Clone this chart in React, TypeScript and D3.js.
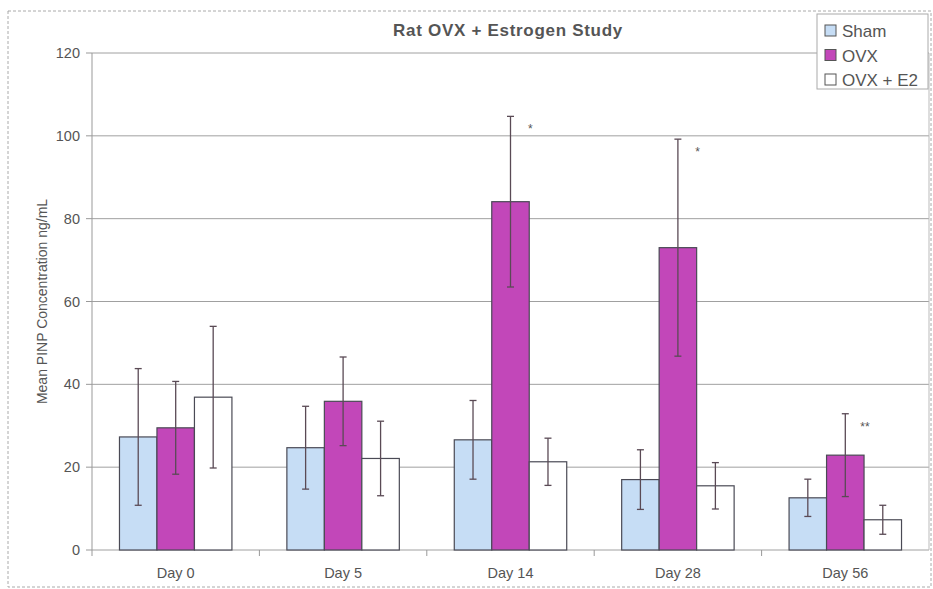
import { scaleBand, scaleLinear } from "d3";

const days = ["Day 0", "Day 5", "Day 14", "Day 28", "Day 56"];
const groups = ["Sham", "OVX", "OVX + E2"];
const shamMean = [27.3, 24.7, 26.6, 17.0, 12.6];
const shamErr = [16.5, 10.0, 9.5, 7.2, 4.5];
const ovxMean = [29.5, 35.9, 84.1, 73.0, 22.9];
const ovxErr = [11.2, 10.7, 20.6, 26.2, 10.0];
const e2Mean = [36.9, 22.1, 21.3, 15.5, 7.3];
const e2Err = [17.1, 9.0, 5.7, 5.6, 3.5];
const yTicks = [0, 20, 40, 60, 80, 100, 120];
const marks = ["", "", "*", "*", "**"];

const colors = ["#c6ddf5", "#c247b9", "#ffffff"];
const font = "'Liberation Sans', Arial, sans-serif";

export default function App() {
  const W = 933;
  const H = 589;
  const m = { l: 92, r: 4, t: 53, b: 39 };
  const x = scaleBand().domain(days).range([m.l, W - m.r]).paddingInner(0).paddingOuter(0);
  const y = scaleLinear().domain([0, 120]).range([H - m.b, m.t]);
  const inner = scaleBand()
    .domain(groups)
    .range([0, x.bandwidth()])
    .paddingOuter(0.733)
    .paddingInner(0);
  const series = [
    { mean: shamMean, err: shamErr },
    { mean: ovxMean, err: ovxErr },
    { mean: e2Mean, err: e2Err },
  ];

  return (
    <svg
      width={W}
      height={H}
      style={{ position: "absolute", left: 0, top: 0, background: "#fff" }}
      fontFamily={font}
    >
      <rect x={8} y={11} width={923} height={576} fill="none" stroke="#aaa" strokeDasharray="3,2" />
      <text
        x={508}
        y={36}
        textAnchor="middle"
        fontSize={17}
        fontWeight="bold"
        letterSpacing={0.7}
        fill="#555"
      >
        Rat OVX + Estrogen Study
      </text>
      {yTicks.map((t) => (
        <g key={t}>
          <line x1={m.l} x2={W - m.r} y1={y(t)} y2={y(t)} stroke="#a0a0a0" strokeWidth={1} />
          <line x1={m.l - 6} x2={m.l} y1={y(t)} y2={y(t)} stroke="#999" />
          <text x={m.l - 12} y={y(t) + 5} textAnchor="end" fontSize={14.5} fill="#555">
            {t}
          </text>
        </g>
      ))}
      <line x1={m.l} x2={m.l} y1={m.t} y2={y(0)} stroke="#999" />
      <line x1={W - m.r} x2={W - m.r} y1={m.t} y2={y(0)} stroke="#bbb" />
      {days.map((d) => (
        <g key={d}>
          <line x1={x(d)!} x2={x(d)!} y1={y(0)} y2={y(0) + 6} stroke="#999" />
          <text x={x(d)! + x.bandwidth() / 2} y={y(0) + 28} textAnchor="middle" fontSize={14.5} fill="#555">
            {d}
          </text>
        </g>
      ))}
      <text
        transform={`translate(47,${(m.t + y(0)) / 2}) rotate(-90)`}
        textAnchor="middle"
        fontSize={14}
        fill="#555"
      >
        Mean PINP Concentration ng/mL
      </text>
      {series.map((s, gi) =>
        days.map((d, i) => {
          const bx = x(d)! + inner(groups[gi])!;
          const bw = inner.bandwidth();
          return (
            <rect
              key={`${gi}-${d}`}
              x={bx}
              y={y(s.mean[i])}
              width={bw}
              height={y(0) - y(s.mean[i])}
              fill={colors[gi]}
              stroke="#4a4a55"
              strokeWidth={1.2}
            />
          );
        })
      )}
      {series.map((s, gi) =>
        days.map((d, i) => {
          const cx = x(d)! + inner(groups[gi])! + inner.bandwidth() / 2;
          const hi = y(s.mean[i] + s.err[i]);
          const lo = y(s.mean[i] - s.err[i]);
          return (
            <g key={`e${gi}-${d}`} stroke="#5a4a55" strokeWidth={1.3}>
              <line x1={cx} x2={cx} y1={hi} y2={lo} />
              <line x1={cx - 3.5} x2={cx + 3.5} y1={hi} y2={hi} />
              <line x1={cx - 3.5} x2={cx + 3.5} y1={lo} y2={lo} />
            </g>
          );
        })
      )}
      {days.map((d, i) =>
        marks[i] ? (
          <text
            key={`m${d}`}
            x={x(d)! + inner("OVX")! + inner.bandwidth() + 1}
            y={y(ovxMean[i] + ovxErr[i]) + 17}
            textAnchor="middle"
            fontSize={12}
            fill="#555"
          >
            {marks[i]}
          </text>
        ) : null
      )}
      <g>
        <rect x={817} y={14} width={111} height={75} fill="#fff" stroke="#aaa" />
        {groups.map((g, gi) => (
          <g key={g} transform={`translate(825,${31 + gi * 24.5})`}>
            <rect x={0} y={-6} width={11} height={11} fill={colors[gi]} stroke="#555" />
            <text x={17} y={6} fontSize={17} fill="#555">
              {g}
            </text>
          </g>
        ))}
      </g>
    </svg>
  );
}
